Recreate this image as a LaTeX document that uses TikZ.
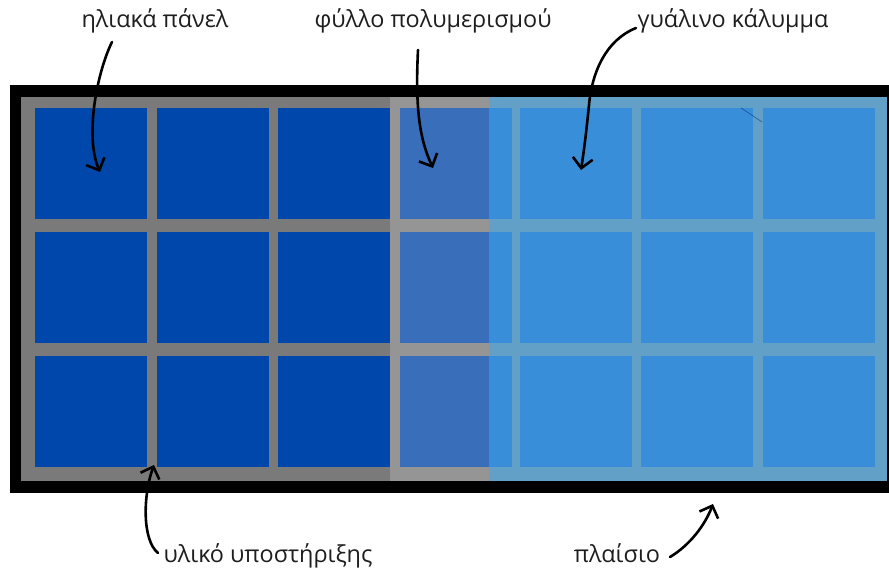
\documentclass[tikz,border=0pt]{standalone}
\usepackage{fontspec}
\setmainfont{Open Sans}
\usetikzlibrary{arrows.meta}
\definecolor{framegray}{RGB}{122,122,122}
\definecolor{cellblue}{RGB}{0,71,171}
\definecolor{sheettint}{RGB}{235,238,235}
\definecolor{glasstint}{RGB}{88,180,241}
\definecolor{inktext}{RGB}{30,30,30}

\begin{document}
\begin{tikzpicture}[x=1pt,y=-1pt,
  cell/.style={fill=cellblue},
  lbl/.style={font=\fontsize{23.4}{27}\selectfont, text=inktext, inner sep=0pt, anchor=base},
  pointer/.style={line width=2.6pt, line cap=round, line join=round,
    -{Straight Barb[length=10pt,width=20pt,line width=2.6pt]}}
]
\useasboundingbox (0,0) rectangle (889,572);
\fill[white] (0,0) rectangle (889,572);

% outer black frame (runs past the right edge)
\begin{scope}
  \clip (0,0) rectangle (889,572);
  \fill[black] (10,85) rectangle (900,493);
\end{scope}

% support material behind the cells
\fill[framegray] (21,97) rectangle (887,481);

% solar cells, 7 x 3
\foreach \x in {35,157,278,400,520,641,763}
  \foreach \y in {108,232,356}
    \fill[cell] (\x,\y) rectangle ++(112,111);

% polymer sheet layer
\fill[sheettint, opacity=0.24] (390,97) rectangle (489,481);
% glass cover layer
\fill[glasstint, opacity=0.66] (489,97) rectangle (887,481);
% small scratch on the glass
\draw[cellblue!70!black, line width=0.7pt, opacity=0.6] (741,108) -- (762,122);

% labels
\node[lbl] (panels)  at (155,28)  {ηλιακά πάνελ};
\node[lbl] (sheet)   at (433,28)  {φύλλο πολυμερισμού};
\node[lbl] (glass)   at (733,28)  {γυάλινο κάλυμμα};
\node[lbl] (support) at (268,562) {υλικό υποστήριξης};
\node[lbl] (frame)   at (617,562) {πλαίσιο};

% arrow end points
\coordinate (panelsA) at (112,42);
\coordinate (panelsB) at (100,172);
\coordinate (sheetA)  at (418,50);
\coordinate (sheetB)  at (433,168);
\coordinate (glassA)  at (636,28);
\coordinate (glassM)  at (589,105);
\coordinate (glassB)  at (581,170);
\coordinate (supportA) at (158,553);
\coordinate (supportB) at (154,465);
\coordinate (frameA)  at (670,557);
\coordinate (frameB)  at (713,504);

% hand-drawn pointers
\draw[pointer] (panelsA) .. controls (98,70) and (84,135) .. (panelsB);
\draw[pointer] (sheetA) .. controls (415,110) and (420,140) .. (sheetB);
\draw[pointer] (glassA) .. controls (606,40) and (592,72) .. (glassM)
                        .. controls (586,135) and (584,150) .. (glassB);
\draw[pointer] (supportA) .. controls (142,540) and (143,495) .. (supportB);
\draw[pointer] (frameA) .. controls (690,545) and (705,525) .. (frameB);
\end{tikzpicture}
\end{document}
